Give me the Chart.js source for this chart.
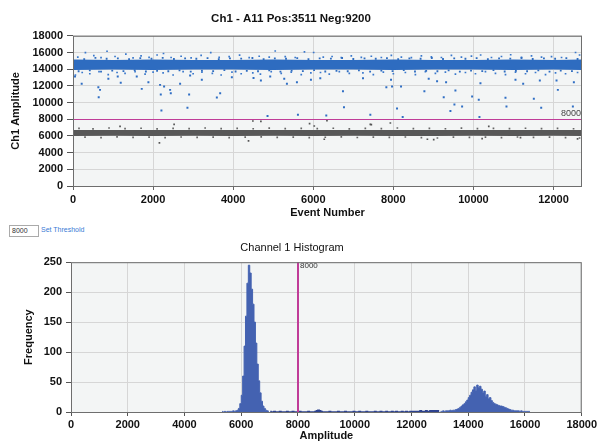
<!DOCTYPE html>
<html><head><meta charset="utf-8">
<script src="https://cdn.jsdelivr.net/npm/chart.js@4.4.1/dist/chart.umd.min.js"></script>
<style>
html,body{margin:0;padding:0;background:#fff;width:599px;height:443px;overflow:hidden;font-family:"Liberation Sans",Arial,sans-serif}
#c1{position:absolute;left:0;top:0}
#c2{position:absolute;left:0;top:240px}
#thr{position:absolute;left:9px;top:225px;width:26px;height:10px;border:1px solid #aaa;font-size:7px;line-height:10px;padding:0 0 0 2px;color:#333;box-sizing:content-box}
#set{position:absolute;left:41px;top:226px;font-size:7px;color:#3a7bd5}
</style></head>
<body>
<canvas id="c1" width="599" height="222"></canvas>
<div id="thr">8000</div><div id="set">Set Threshold</div>
<canvas id="c2" width="599" height="203"></canvas>
<script>
// ---------- data ----------
const scatterTitle = "Ch1 - A11 Pos:3511 Neg:9200";
const histTitle = "Channel 1 Histogram";
const threshold = 8000;
const totalEvents = 12711;

// dense band envelopes (event number, amplitude)
const bandX       = [0,1000,2000,3000,4000,5000,6000,7000,8000,9000,10000,11000,12000,12711];
const posBandHigh = [15150,15100,15150,15100,15100,15150,15100,15100,15150,15100,15100,15150,15100,15150];
const posBandLow  = [13900,13950,13900,13950,13950,13900,13950,13950,13900,13950,13950,13900,13950,13900];
const negBandHigh = [6720,6700,6720,6700,6720,6700,6700,6720,6700,6720,6700,6700,6720,6700];
const negBandLow  = [6000,6020,6000,6020,6000,6010,6000,6020,6000,6000,6020,6000,6010,6000];

// positive droplets around the band edges and outliers [event, amplitude]
const posEdge = [[0,15300],[280,15200],[560,15350],[840,15250],[1120,15300],[1400,15200],[1680,15320],[1960,15250],[2240,15350],[2520,15220],[2800,15300],[3080,15250],[3360,15330],[3640,15200],[3920,15300],[4200,15260],[4480,15340],[4760,15210],[5040,15290],[5320,15250],[5600,15330],[5880,15200],[6160,15300],[6440,15260],[6720,15340],[7000,15220],[7280,15300],[7560,15250],[7840,15330],[8120,15200],[8400,15300],[8680,15250],[8960,15340],[9240,15220],[9520,15300],[9800,15250],[10080,15330],[10360,15210],[10640,15300],[10920,15260],[11200,15340],[11480,15220],[11760,15300],[12040,15250],[12320,15330],[12600,15220],
[140,13750],[420,13850],[700,13700],[980,13820],[1260,13760],[1540,13880],[1820,13720],[2100,13800],[2380,13750],[2660,13860],[2940,13700],[3220,13820],[3500,13760],[3780,13880],[4060,13720],[4340,13800],[4620,13750],[4900,13860],[5180,13700],[5460,13820],[5740,13760],[6020,13880],[6300,13720],[6580,13800],[6860,13750],[7140,13860],[7420,13700],[7700,13820],[7980,13760],[8260,13880],[8540,13720],[8820,13800],[9100,13750],[9380,13860],[9660,13700],[9940,13820],[10220,13760],[10500,13880],[10780,13720],[11060,13800],[11340,13750],[11620,13860],[11900,13700],[12180,13820],[12460,13760]];
const posFringe = [[120,15450],[310,15980],[520,15620],[700,15380],[850,16150],[1050,15520],[1320,15800],[1500,15350],[1700,15600],[1900,15420],[2100,15700],[2260,15880],[2450,15400],[2700,15550],[2950,15350],[3200,15650],[3440,15980],[3650,15420],[3900,15500],[4160,15690],[4400,15380],[4650,15550],[4900,15450],[5050,16180],[5300,15500],[5550,15400],[5780,16080],[6010,16000],[6250,15450],[6470,15520],[6700,15380],[6950,15600],[7200,15420],[7450,15550],[7700,15400],[7950,15650],[8200,15450],[8450,15380],[8700,15600],[8950,15480],[9200,15400],[9450,15650],[9700,15450],[9950,15560],[10180,15700],[10450,15400],[10700,15520],[10930,15730],[11200,15420],[11450,15600],[11700,15450],[11950,15500],[12200,15400],[12550,16000],[12650,15700],
[60,13300],[230,13600],[420,13450],[650,13700],[880,13350],[1100,13600],[1300,13500],[1550,13700],[1800,13400],[2000,13650],[2250,13550],[2500,13300],[2750,13700],[3000,13450],[3220,13650],[3480,13500],[3700,13300],[3970,13650],[4200,13450],[4490,13550],[4680,13400],[4950,13700],[5200,13500],[5450,13650],[5700,13350],[5940,13550],[6180,13600],[6400,13400],[6650,13700],[6900,13500],[7240,13550],[7500,13350],[7750,13650],[8000,13450],[8300,13600],[8550,13350],[8800,13700],[9050,13500],[9300,13650],[9550,13400],[9800,13600],[10050,13450],[10300,13700],[10550,13500],[10800,13350],[11050,13650],[11300,13450],[11550,13600],[11800,13350],[12050,13550],[12300,13450],[12600,13600]];
const posOutliers = [[50,13110],[217,12240],[883,12840],[633,11830],[675,11520],[642,10640],[1117,13110],[1192,12360],[1592,13110],[1717,11640],[1883,12430],[2175,12120],[2192,10960],[2208,9060],[2275,11920],[2425,11520],[2442,11120],[2675,12240],[2858,9380],[2900,10960],[2925,13230],[3217,12720],[3592,10610],[3675,11120],[3967,13030],[4508,12950],[4692,12630],[4858,8380],[4925,13110],[5275,12840],[5342,12240],[5592,12430],[5617,8550],[5942,12720],[6175,12910],[6325,8460],[6742,11360],[6767,9450],[7242,12910],[7425,8550],[7825,11830],[7942,12720],[7967,11920],[8092,9300],[8192,11920],[8233,8260],[8775,11360],[8883,12840],[9092,12550],[9258,10640],[9317,12430],[9425,8980],[9525,9770],[9550,11440],[9717,9530],[9967,10730],[10133,10330],[10150,8260],[10175,12320],[10800,10570],[10825,9530],[11050,12720],[11242,12240],[11508,10450],[11692,9380],[11658,12630],[12108,11520],[12075,12630],[12483,9530],[12508,12430]];

// negative droplets around the band edges and outliers [event, amplitude]
const negFringe = [[150,6900],[500,6850],[900,6950],[1300,6880],[1700,6920],[2100,6850],[2500,6900],[2900,6870],[3300,6950],[3700,6880],[4100,6900],[4500,6860],[4900,6940],[5300,6880],[5700,6900],[6100,6870],[6500,6920],[6900,6850],[7300,6900],[7700,6880],[8100,6950],[8500,6870],[8900,6900],[9300,6860],[9700,6930],[10100,6880],[10500,6900],[10900,6870],[11300,6920],[11700,6880],[12100,6900],[12500,6860],
[300,5850],[700,5800],[1100,5880],[1500,5820],[1900,5860],[2300,5800],[2700,5870],[3100,5830],[3500,5860],[3900,5800],[4300,5850],[4700,5880],[5100,5820],[5500,5860],[5900,5800],[6300,5840],[6700,5880],[7100,5810],[7500,5860],[7900,5830],[8300,5870],[8700,5800],[9100,5750],[9500,5860],[9900,5820],[10300,5850],[10700,5800],[11100,5870],[11500,5830],[11900,5860],[12300,5800],[12650,5750]];
const negOutliers = [[1175,7150],[2525,7390],[2158,5160],[4383,5400],[4492,7790],[4692,7750],[5908,7470],[6025,7190],[6342,7830],[7450,7350],[6275,5600],[7425,7390],[7925,7550],[10383,7150],[9008,5560],[8850,5600],[10217,5680],[11175,5800],[12600,5650]];

// histogram: bin width 50, counts per bin
const histBinWidth = 50;
const histNegStart = 5300;
const histNeg = [1,0,1,0,1,1,1,1,2,1,2,3,6,14,28,60,110,160,215,245,232,205,180,150,115,80,52,32,18,10,6,3,2,1];
const histRainStart = 7000;
const histRain = [1,0,0,1,0,0,0,1,0,0,0,0,1,0,0,0,1,0,0,0,
                  0,1,0,0,0,0,0,1,0,0,0,0,1,2,3,2,1,0,0,0,
                  0,0,1,0,0,0,0,0,1,0,0,0,0,1,0,0,0,0,0,1,
                  0,0,0,1,0,0,0,0,1,0,0,0,0,0,1,0,0,0,1,0,
                  0,0,1,0,0,0,1,0,0,1,0,0,0,1,0,0,1,0,0,1,
                  0,1,0,1,1,0,2,1,0,1,2,1,1,2,1,2,1,2,2,1];
const histPosStart = 13000;
const histPos = [1,1,2,1,2,2,2,3,2,3,
                 3,4,5,6,8,10,12,14,17,20,
                 24,28,33,37,42,36,45,41,43,38,
                 32,35,26,29,22,24,19,16,14,13,
                 12,11,10,10,9,8,7,6,5,4,
                 3,3,2,2,2,2,1,2,1,1,
                 1,1,1,1];

// ticks
const scatterYTicks = [0,2000,4000,6000,8000,10000,12000,14000,16000,18000];
const scatterXTicks = [0,2000,4000,6000,8000,10000,12000];
const histXTicks = [0,2000,4000,6000,8000,10000,12000,14000,16000,18000];
const histYTicks = [0,50,100,150,200,250];

// ---------- helpers ----------
const FONT = "'Liberation Sans', Arial, sans-serif";
const toPts = a => a.map(p => ({x:p[0], y:p[1]}));
const band = ys => bandX.map((x,i) => ({x, y: ys[i]}));
const bins = (start, arr) => arr.map((v,i) => ({x: start + histBinWidth*(i+0.5), y: v}));
const keepTicks = list => (scale) => { scale.ticks = list.map(v => ({value: v})); };
const plain = v => String(v);

const decor = {
  id: 'decor',
  beforeDraw(chart) {
    const {ctx, chartArea: a} = chart;
    ctx.save(); ctx.fillStyle = '#f3f5f5';
    ctx.fillRect(a.left, a.top, a.right - a.left, a.bottom - a.top); ctx.restore();
  },
  afterDatasetsDraw(chart, args, opts) {
    const {ctx, chartArea: a, scales} = chart;
    ctx.save();
    ctx.strokeStyle = '#c03c98'; ctx.lineWidth = opts.lw;
    ctx.beginPath();
    if (opts.vertical) {
      const px = Math.round(scales.x.getPixelForValue(threshold));
      ctx.moveTo(px, a.top); ctx.lineTo(px, a.bottom); ctx.stroke();
      ctx.fillStyle = '#333'; ctx.font = '8px ' + FONT; ctx.textBaseline = 'top';
      ctx.fillText(String(threshold), px + 2, a.top);
    } else {
      const py = Math.round(scales.y.getPixelForValue(threshold)) + 0.5;
      ctx.moveTo(a.left, py); ctx.lineTo(a.right, py); ctx.stroke();
      ctx.fillStyle = '#444'; ctx.font = '9px ' + FONT; ctx.textBaseline = 'bottom'; ctx.textAlign = 'right';
      ctx.fillText(String(threshold), a.right - 1, py - 1);
    }
    ctx.strokeStyle = '#6e6e6e'; ctx.lineWidth = 1;
    ctx.strokeRect(a.left + 0.5, a.top + 0.5, a.right - a.left - 1, a.bottom - a.top);
    ctx.restore();
  }
};

Chart.defaults.font.family = FONT;
Chart.defaults.color = '#111';

// ---------- scatter chart ----------
new Chart(document.getElementById('c1'), {
  type: 'scatter',
  data: { datasets: [
    {data: band(posBandLow), showLine: true, borderWidth: 0, pointRadius: 0, fill: false, order: 5},
    {data: band(posBandHigh), showLine: true, borderWidth: 0, pointRadius: 0, fill: '-1', backgroundColor: '#2e6cc0', borderColor: 'rgba(0,0,0,0)', order: 4},
    {data: band(negBandLow), showLine: true, borderWidth: 0, pointRadius: 0, fill: false, order: 5},
    {data: band(negBandHigh), showLine: true, borderWidth: 0, pointRadius: 0, fill: '-1', backgroundColor: '#585858', borderColor: 'rgba(0,0,0,0)', order: 4},
    {data: toPts(posEdge), pointStyle: 'rect', pointRadius: 1.3, borderWidth: 0, backgroundColor: '#2e6cc0', order: 2},
    {data: toPts(posFringe), pointStyle: 'rect', pointRadius: 1.2, borderWidth: 0, backgroundColor: '#3a78cc', order: 2},
    {data: toPts(posOutliers), pointStyle: 'rect', pointRadius: 1.4, borderWidth: 0, backgroundColor: '#2f6ec4', order: 1},
    {data: toPts(negFringe), pointStyle: 'rect', pointRadius: 1.2, borderWidth: 0, backgroundColor: '#666', order: 2},
    {data: toPts(negOutliers), pointStyle: 'rect', pointRadius: 1.2, borderWidth: 0, backgroundColor: '#555', order: 1}
  ]},
  options: {
    responsive: false, animation: false, events: [],
    layout: {padding: {left: 0, right: 17, top: 12, bottom: 0}},
    plugins: {
      legend: {display: false}, tooltip: {enabled: false},
      title: {display: true, text: scatterTitle, font: {size: 11.5, weight: 'bold'}, color: '#111', padding: {top: 0, bottom: 10}},
      decor: {vertical: false, lw: 1.2}
    },
    scales: {
      x: {type: 'linear', min: 0, max: totalEvents,
          afterBuildTicks: keepTicks(scatterXTicks),
          afterFit: s => { s.height = 36; },
          grid: {color: '#d6d6d6', tickLength: 4, tickColor: '#666', drawTicks: true},
          border: {display: false},
          ticks: {font: {size: 11, weight: 'bold'}, padding: 3, maxRotation: 0, color: '#111', callback: plain},
          title: {display: true, text: 'Event Number', font: {size: 11, weight: 'bold'}, padding: {top: 0, bottom: 2}, color: '#111'}},
      y: {type: 'linear', min: 0, max: 18000,
          afterBuildTicks: keepTicks(scatterYTicks),
          afterFit: s => { s.width = 73; },
          grid: {color: '#d6d6d6', tickLength: 6, tickColor: '#555'},
          border: {display: false},
          ticks: {font: {size: 11, weight: 'bold'}, padding: 4, color: '#111', callback: plain},
          title: {display: true, text: 'Ch1 Amplitude', font: {size: 11, weight: 'bold'}, padding: {top: 9, bottom: 0}, color: '#111'}}
    }
  },
  plugins: [decor]
});

// ---------- histogram (stepped area per bin) ----------
const histArea = {stepped: 'middle', fill: 'origin', pointRadius: 0, tension: 0};
new Chart(document.getElementById('c2'), {
  type: 'line',
  data: { datasets: [
    Object.assign({data: bins(histNegStart, histNeg), backgroundColor: '#4462b1', borderColor: '#4462b1', borderWidth: 1}, histArea),
    Object.assign({data: bins(histRainStart, histRain), backgroundColor: '#2d428f', borderColor: '#2d428f', borderWidth: 1.5}, histArea),
    Object.assign({data: bins(histPosStart, histPos), backgroundColor: '#4462b1', borderColor: '#4462b1', borderWidth: 1}, histArea)
  ]},
  options: {
    responsive: false, animation: false, events: [],
    layout: {padding: {left: 0, right: 15, top: 0, bottom: 0}},
    plugins: {
      legend: {display: false}, tooltip: {enabled: false},
      title: {display: true, text: histTitle, font: {size: 11, weight: 'normal'}, color: '#111', padding: {top: 1, bottom: 8}},
      decor: {vertical: true, lw: 2}
    },
    scales: {
      x: {type: 'linear', min: 0, max: 18000,
          afterBuildTicks: keepTicks(histXTicks),
          afterFit: s => { s.height = 31; },
          grid: {color: '#d6d6d6', tickLength: 4, tickColor: '#555'},
          border: {display: false},
          ticks: {font: {size: 11, weight: 'bold'}, padding: 2, maxRotation: 0, color: '#111', callback: plain},
          title: {display: true, text: 'Amplitude', font: {size: 11, weight: 'bold'}, padding: {top: 0, bottom: 0}, color: '#111'}},
      y: {type: 'linear', min: 0, max: 250,
          afterBuildTicks: keepTicks(histYTicks),
          afterFit: s => { s.width = 71; },
          grid: {color: '#d6d6d6', tickLength: 5, tickColor: '#555'},
          border: {display: false},
          ticks: {font: {size: 11, weight: 'bold'}, padding: 4, color: '#111', callback: plain},
          title: {display: true, text: 'Frequency', font: {size: 11, weight: 'bold'}, padding: {top: 22, bottom: 0}, color: '#111'}}
    }
  },
  plugins: [decor]
});
</script>
</body></html>
